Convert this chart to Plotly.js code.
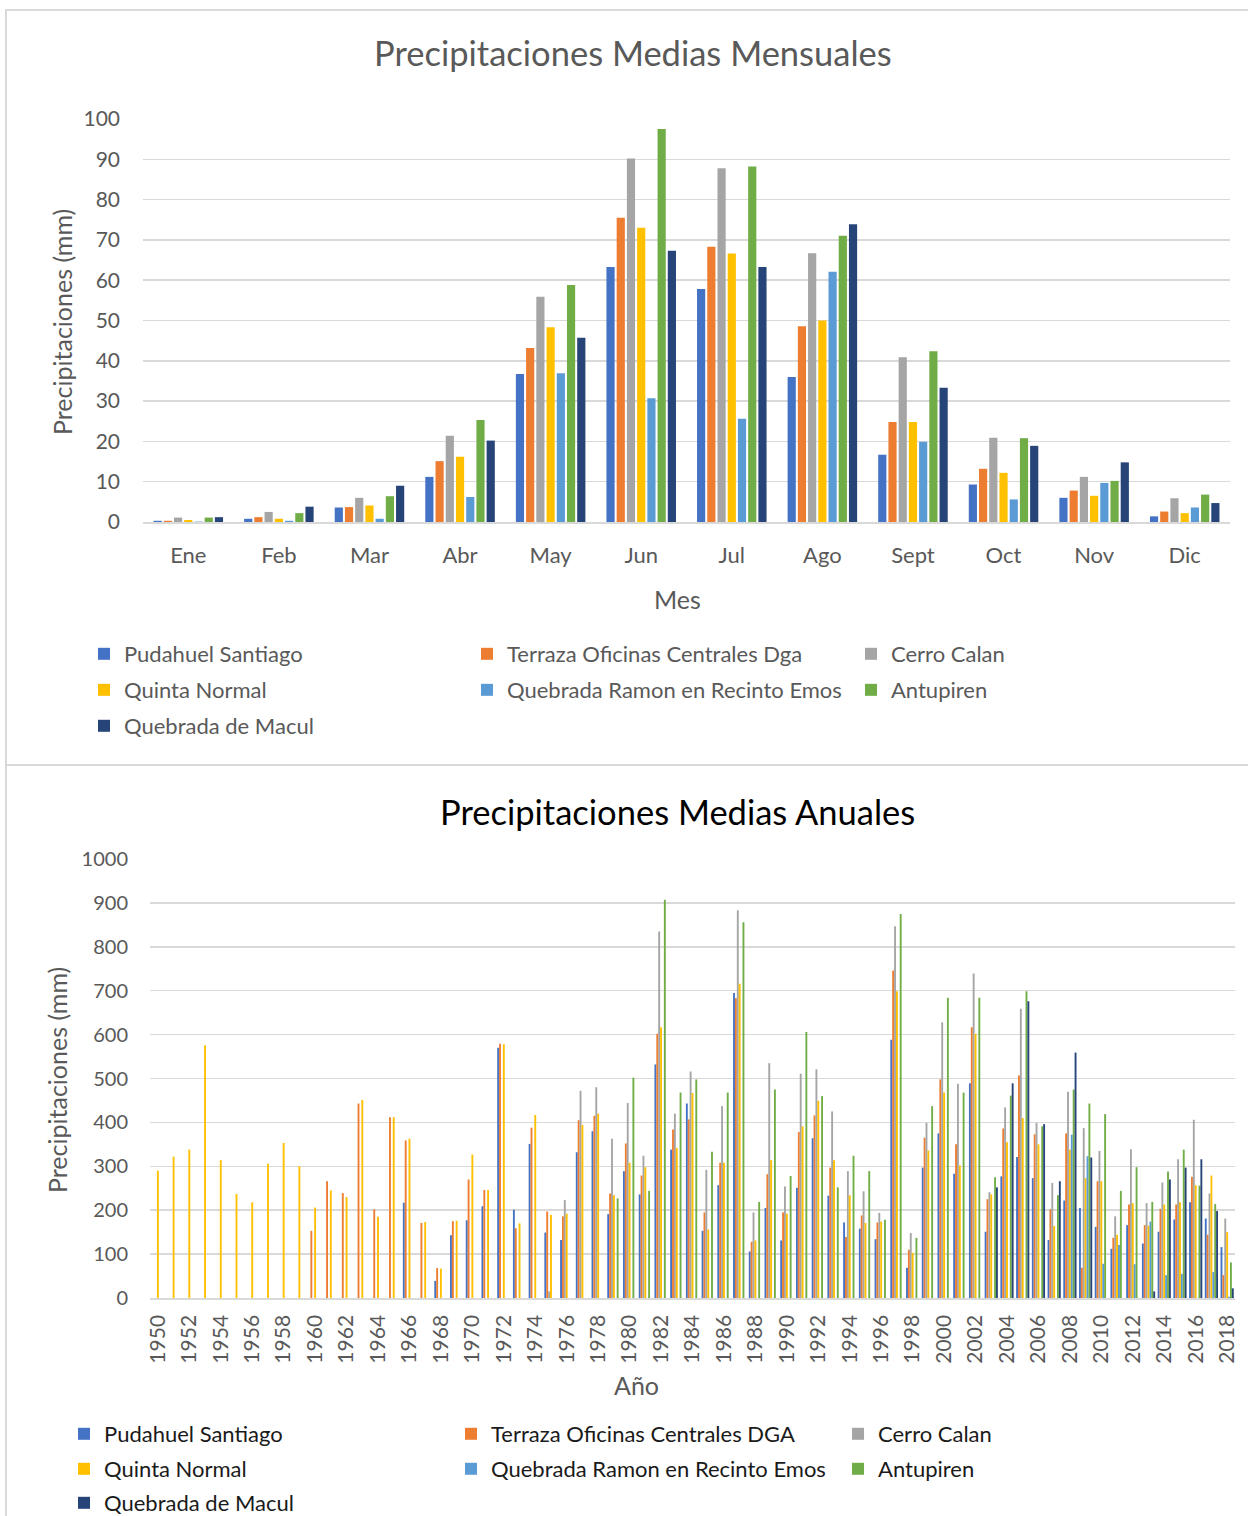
<!DOCTYPE html>
<html>
<head>
<meta charset="utf-8">
<script src="https://cdn.plot.ly/plotly-3.0.1.min.js"></script>
<style>
  html, body { margin: 0; padding: 0; background: #fff; }
  body { width: 1248px; height: 1516px; position: relative; overflow: hidden; }
  .chart { position: absolute; left: 0; width: 1248px; }
  #monthlyChart { top: 0; height: 765px; }
  #annualChart { top: 765px; height: 751px; }
  .rule { position: absolute; background: #d9d9d9; pointer-events: none; z-index: 5; }
</style>
</head>
<body>
<div id="monthlyChart" class="chart"></div>
<div id="annualChart" class="chart"></div>
<div class="rule" style="left:6px; top:9px; width:1242px; height:2px;"></div>
<div class="rule" style="left:5px; top:9px; width:2px; height:1507px;"></div>
<div class="rule" style="left:6px; top:764px; width:1242px; height:2px;"></div>
<script>
// colours of the Office palette, in series order
const seriesColors = ["#4472C4", "#ED7D31", "#A5A5A5", "#FFC000", "#5B9BD5", "#70AD47", "#264478"];
const fontFamily = "Lato, 'Open Sans', sans-serif";
const textGray = "#595959";

// ---- monthly means (mm)
const months = ["Ene", "Feb", "Mar", "Abr", "May", "Jun", "Jul", "Ago", "Sept", "Oct", "Nov", "Dic"];
const monthlyNames = [
  "Pudahuel Santiago", "Terraza Oficinas Centrales Dga", "Cerro Calan",
  "Quinta Normal", "Quebrada Ramon en Recinto Emos", "Antupiren", "Quebrada de Macul"
];
const mPudahuel = [0.3, 0.8, 3.6, 11.2, 36.7, 63.3, 57.8, 36.0, 16.7, 9.3, 6.0, 1.4];
const mTerraza  = [0.3, 1.2, 3.7, 15.1, 43.2, 75.5, 68.3, 48.6, 24.8, 13.2, 7.8, 2.6];
const mCalan    = [1.1, 2.5, 6.0, 21.4, 55.9, 90.2, 87.8, 66.7, 40.9, 20.9, 11.2, 5.9];
const mQuinta   = [0.5, 0.8, 4.1, 16.2, 48.3, 73.0, 66.6, 50.0, 24.8, 12.2, 6.5, 2.2];
const mRamon    = [0.1, 0.3, 0.8, 6.2, 36.9, 30.7, 25.6, 62.1, 19.9, 5.6, 9.7, 3.6];
const mAntupiren= [1.1, 2.2, 6.4, 25.3, 58.8, 97.5, 88.2, 71.0, 42.4, 20.8, 10.2, 6.8];
const mMacul    = [1.2, 3.8, 9.0, 20.2, 45.7, 67.3, 63.3, 73.9, 33.3, 18.9, 14.8, 4.7];

// ---- annual totals (mm), 1950-2018
const years = [
  1950, 1951, 1952, 1953, 1954, 1955, 1956, 1957, 1958, 1959,
  1960, 1961, 1962, 1963, 1964, 1965, 1966, 1967, 1968, 1969,
  1970, 1971, 1972, 1973, 1974, 1975, 1976, 1977, 1978, 1979,
  1980, 1981, 1982, 1983, 1984, 1985, 1986, 1987, 1988, 1989,
  1990, 1991, 1992, 1993, 1994, 1995, 1996, 1997, 1998, 1999,
  2000, 2001, 2002, 2003, 2004, 2005, 2006, 2007, 2008, 2009,
  2010, 2011, 2012, 2013, 2014, 2015, 2016, 2017, 2018
];
const annualNames = [
  "Pudahuel Santiago", "Terraza Oficinas Centrales DGA", "Cerro Calan",
  "Quinta Normal", "Quebrada Ramon en Recinto Emos", "Antupiren", "Quebrada de Macul"
];
const aPudahuel = [
  null, null, null, null, null, null, null, null, null, null,
  null, null, null, null, null, null, 217, null, 39, 143,
  177, 209, 570, 201, 351, 149, 132, 332, 380, 191,
  289, 236, 532, 338, 443, 153, 257, 695, 106, 205,
  131, 251, 364, 233, 172, 158, 134, 588, 69, 297,
  375, 283, 489, 151, 277, 321, 273, 132, 222, 205,
  162, 112, 166, 124, 151, 179, 218, 181, 116
];
const aTerraza = [
  null, null, null, null, null, null, null, null, null, null,
  153, 266, 239, 443, 202, 412, 359, 171, 68, 175,
  270, 246, 579, 159, 388, 197, 186, 405, 415, 238,
  352, 279, 602, 384, 407, 195, 308, 683, 128, 282,
  195, 378, 416, 297, 139, 188, 172, 746, 110, 365,
  498, 350, 617, 225, 386, 507, 373, 202, 375, 69,
  266, 137, 213, 166, 203, 213, 276, 144, 52
];
const aCalan = [
  null, null, null, null, null, null, null, null, null, null,
  null, null, null, null, null, null, null, null, null, null,
  null, null, null, null, null, 15, 223, 472, 480, 363,
  444, 324, 835, 420, 516, 292, 437, 883, 195, 535,
  254, 511, 521, 425, 289, 243, 194, 847, 148, 399,
  628, 488, 739, 241, 434, 659, 399, 262, 470, 387,
  335, 186, 339, 216, 263, 316, 406, 238, 181
];
const aQuinta = [
  290, 322, 338, 576, 314, 237, 218, 306, 353, 300,
  206, 245, 230, 451, 185, 412, 363, 173, 67, 176,
  327, 246, 578, 170, 417, 189, 192, 394, 420, 234,
  308, 298, 617, 342, 467, 156, 308, 716, 131, 314,
  192, 391, 449, 314, 234, 171, 174, 699, 103, 336,
  468, 302, 602, 236, 355, 410, 350, 164, 338, 273,
  266, 144, 216, 165, 213, 218, 257, 279, 150
];
const aRamon = [
  null, null, null, null, null, null, null, null, null, null,
  null, null, null, null, null, null, null, null, null, null,
  null, null, null, null, null, null, null, null, null, null,
  null, null, null, null, null, null, null, null, null, null,
  null, null, null, null, null, null, null, null, null, null,
  null, null, null, null, null, null, null, null, 372, 323,
  78, 121, 77, 174, 52, 55, null, 59, 3
];
const aAntupiren = [
  null, null, null, null, null, null, null, null, null, null,
  null, null, null, null, null, null, null, null, null, null,
  null, null, null, null, null, null, null, null, null, 227,
  502, 244, 907, 468, 498, 333, 468, 856, 219, 475,
  278, 606, 460, 252, 324, 289, 178, 875, 137, 437,
  684, 468, 684, 275, 461, 699, 391, 234, 475, 443,
  419, 244, 298, 219, 288, 338, 256, 214, 81
];
const aMacul = [
  null, null, null, null, null, null, null, null, null, null,
  null, null, null, null, null, null, null, null, null, null,
  null, null, null, null, null, null, null, null, null, null,
  null, null, null, null, null, null, null, null, null, null,
  null, null, null, null, null, null, null, null, null, null,
  null, null, null, 252, 489, 676, 396, 266, 559, 320,
  null, null, null, 15, 270, 297, 316, 198, 22
];

// one small legend per series, laid out in a 3-column grid (row, column)
const legendIds = ["legend", "legend2", "legend3", "legend4", "legend5", "legend6", "legend7"];
const legendGrid = [[0, 0], [0, 1], [0, 2], [1, 0], [1, 1], [1, 2], [2, 0]];

function makeTraces(names, x, values) {
  return values.map((y, i) => ({
    type: "bar",
    name: names[i],
    x: x,
    y: y,
    marker: { color: seriesColors[i] },
    legend: legendIds[i],
    hoverinfo: "skip"
  }));
}

// legends sit in container coordinates so they do not push the margins
function addLegends(layout, colX, rowY, color) {
  legendIds.forEach((id, i) => {
    const [row, col] = legendGrid[i];
    layout[id] = {
      orientation: "h",
      xref: "container", yref: "container",
      x: colX[col], y: rowY[row],
      xanchor: "left", yanchor: "middle",
      font: { family: fontFamily, size: 22, color: color },
      bgcolor: "rgba(0,0,0,0)"
    };
  });
  return layout;
}

function note(text, x, y, size, color, angle) {
  return {
    text: text, xref: "paper", yref: "paper", x: x, y: y,
    xanchor: "center", yanchor: "middle", showarrow: false,
    textangle: angle || 0,
    font: { family: fontFamily, size: size, color: color }
  };
}

function renderMonthly() {
  const traces = makeTraces(monthlyNames, months,
    [mPudahuel, mTerraza, mCalan, mQuinta, mRamon, mAntupiren, mMacul]);

  const layout = {
    width: 1248, height: 765,
    margin: { l: 143, r: 18, t: 119, b: 243 },
    paper_bgcolor: "rgba(0,0,0,0)",
    plot_bgcolor: "rgba(0,0,0,0)",
    barmode: "group",
    bargap: 0.21,
    bargroupgap: 0.2,
    font: { family: fontFamily, color: textGray },
    xaxis: {
      type: "category",
      showline: true, linecolor: "#d9d9d9", linewidth: 1.5,
      ticks: "", ticklabelstandoff: 13,
      tickfont: { family: fontFamily, size: 22, color: textGray }
    },
    yaxis: {
      range: [0, 100], dtick: 10,
      showgrid: true, gridcolor: "#d9d9d9", gridwidth: 1.5,
      zeroline: false, showline: false,
      ticks: "", ticklabelstandoff: 22,
      tickfont: { family: fontFamily, size: 21, color: textGray }
    },
    showlegend: true,
    annotations: [
      note("Precipitaciones Medias Mensuales", 0.4508, 1.1638, 34.5, textGray),
      note("Precipitaciones (mm)", -0.0745, 0.4963, 25, textGray, -90),
      note("Mes", 0.4913, -0.1911, 25, textGray)
    ]
  };
  addLegends(layout, [0.0673, 0.3742, 0.6819], [0.1451, 0.0980, 0.0510], textGray);

  Plotly.newPlot("monthlyChart", traces, layout, { staticPlot: true, displayModeBar: false });
}

function renderAnnual() {
  const traces = makeTraces(annualNames, years,
    [aPudahuel, aTerraza, aCalan, aQuinta, aRamon, aAntupiren, aMacul]);

  const layout = {
    width: 1248, height: 751,
    margin: { l: 150, r: 13, t: 94, b: 218 },
    paper_bgcolor: "rgba(0,0,0,0)",
    plot_bgcolor: "rgba(0,0,0,0)",
    barmode: "group",
    bargap: 0.16,
    bargroupgap: 0,
    font: { family: fontFamily, color: textGray },
    xaxis: {
      range: [1949.5, 2018.5],
      tickmode: "linear", tick0: 1950, dtick: 2,
      tickangle: -90,
      showgrid: false, zeroline: false,
      showline: true, linecolor: "#d9d9d9", linewidth: 1.5,
      ticks: "", ticklabelstandoff: 7,
      tickfont: { family: fontFamily, size: 21, color: textGray }
    },
    yaxis: {
      range: [0, 1000], dtick: 100,
      showgrid: true, gridcolor: "#d9d9d9", gridwidth: 1.5,
      zeroline: false, showline: false,
      ticks: "", ticklabelstandoff: 21,
      tickfont: { family: fontFamily, size: 20, color: textGray }
    },
    showlegend: true,
    annotations: [
      note("Precipitaciones Medias Anuales", 0.4866, 1.1071, 34.5, "#000000"),
      note("Precipitaciones (mm)", -0.0857, 0.4966, 25, textGray, -90),
      note("Año", 0.4488, -0.1982, 25, textGray)
    ]
  };
  addLegends(layout, [0.0513, 0.3614, 0.6715], [0.1092, 0.0626, 0.0173], "#1a1a1a");

  Plotly.newPlot("annualChart", traces, layout, { staticPlot: true, displayModeBar: false });
}

renderMonthly();
renderAnnual();
</script>
</body>
</html>
